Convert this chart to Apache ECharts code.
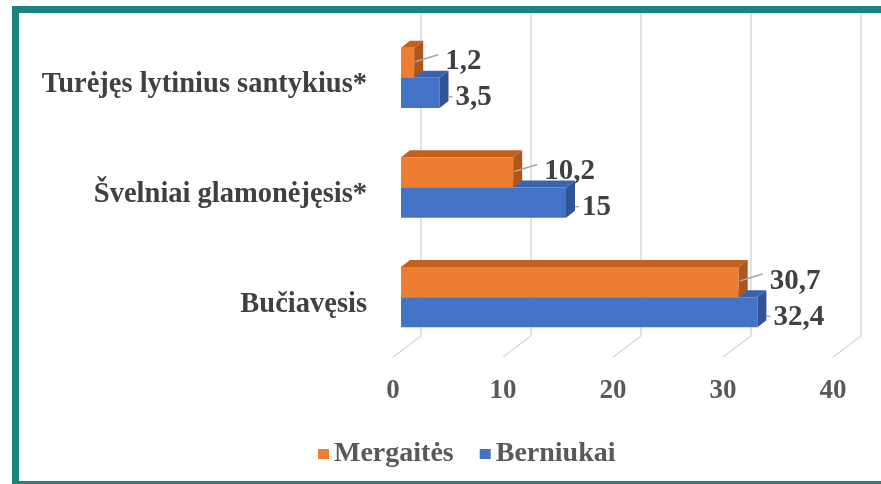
<!DOCTYPE html>
<html>
<head>
<meta charset="utf-8">
<script src="https://cdn.jsdelivr.net/npm/echarts@6/dist/echarts.min.js"></script>
<style>
  html, body { margin: 0; padding: 0; background: #fff; }
  #chart { width: 881px; height: 484px; }
</style>
</head>
<body>
<div id="chart"></div>
<script>
// chart data
const categories = ['Turėjęs lytinius santykius*', 'Švelniai glamonėjęsis*', 'Bučiavęsis']
const mergaites = [1.2, 10.2, 30.7]
const berniukai = [3.5, 15, 32.4]
const xTicks = [0, 10, 20, 30, 40]

const FONT = '"Liberation Serif", "Times New Roman", serif'
const fmt = v => String(v).replace('.', ',')

// 3d-ish bar drawn from the axes; upper = true puts it in the top half of the band
function bar3d(front, top, side, upper, labelUp) {
  return function (params, api) {
    const cat = api.value(1)
    const v = api.value(0)
    const p0 = api.coord([0, cat])
    const p1 = api.coord([v, cat])
    const band = api.size([0, 1])[1]
    const h = band * 0.275
    const dx = 9, dy = -7
    const x0 = p0[0] + 8
    const x1 = p1[0] + 8
    const yTop = upper ? p0[1] - h : p0[1]
    const yBot = yTop + h
    const yc = (yTop + yBot) / 2
    const children = [
      { type: 'polygon', shape: { points: [[x0, yTop], [x1, yTop], [x1 + dx, yTop + dy], [x0 + dx, yTop + dy]] }, style: { fill: top } },
      { type: 'rect', shape: { x: x0, y: yTop, width: x1 - x0, height: h }, style: { fill: front } },
      { type: 'polygon', shape: { points: [[x1, yTop], [x1 + dx, yTop + dy], [x1 + dx, yBot + dy], [x1, yBot]] }, style: { fill: side } }
    ]
    if (labelUp) {
      children.push({ type: 'line', shape: { x1: x1 + 1, y1: yc - 1, x2: x1 + 24, y2: yc - 8 }, style: { stroke: '#a6a6a6', lineWidth: 1.5 } })
      children.push({ type: 'text', style: { text: fmt(v), x: x1 + 31, y: yc - 1, font: 'bold 29px ' + FONT, fill: '#404040', verticalAlign: 'middle' } })
    } else {
      children.push({ type: 'line', shape: { x1: x1 + dx, y1: yc + 4, x2: x1 + 13, y2: yc + 4 }, style: { stroke: '#a6a6a6', lineWidth: 1.5 } })
      children.push({ type: 'text', style: { text: fmt(v), x: x1 + 16, y: yc + 5, font: 'bold 29px ' + FONT, fill: '#404040', verticalAlign: 'middle' } })
    }
    return { type: 'group', children: children }
  }
}

const chart = echarts.init(document.getElementById('chart'))

chart.setOption({
  animation: false,
  grid: { left: 393, right: 48, top: 23, bottom: 132 },
  legend: {
    left: 313,
    top: 435,
    itemWidth: 11,
    itemHeight: 10,
    itemGap: 26,
    icon: 'rect',
    data: ['Mergaitės', 'Berniukai'],
    textStyle: { color: '#595959', fontFamily: FONT, fontWeight: 'bold', fontSize: 28 }
  },
  xAxis: {
    type: 'value',
    min: 0,
    max: 40,
    interval: 10,
    axisLine: { show: false },
    axisTick: { show: false },
    splitLine: { show: false },
    axisLabel: { margin: 26, color: '#595959', fontFamily: FONT, fontWeight: 'bold', fontSize: 27 }
  },
  yAxis: {
    type: 'category',
    inverse: true,
    data: categories,
    axisLine: { show: false },
    axisTick: { show: false },
    axisLabel: {
      margin: 26,
      color: '#404040',
      fontFamily: FONT,
      fontWeight: 'bold',
      fontSize: 28.5,
      verticalAlign: 'top',
      lineHeight: 14
    }
  },
  graphic: [
    { type: 'rect', shape: { x: 12, y: 6, width: 869, height: 7 }, style: { fill: '#1b8282' }, z: 100 },
    { type: 'rect', shape: { x: 12, y: 6, width: 7, height: 478 }, style: { fill: '#1b8282' }, z: 100 },
    { type: 'rect', shape: { x: 12, y: 481, width: 869, height: 3 }, style: { fill: '#1b8282' }, z: 100 }
  ],
  series: [
    {
      type: 'custom',
      silent: true,
      z: 1,
      data: xTicks.map(t => [t, 0]),
      renderItem: function (params, api) {
        const cs = params.coordSys
        const x = api.coord([api.value(0), 0])[0]
        const backBottom = cs.y + cs.height - 16
        return {
          type: 'group',
          children: [
            { type: 'line', shape: { x1: x + 28, y1: cs.y - 12, x2: x + 28, y2: backBottom }, style: { stroke: '#d9d9d9', lineWidth: 1.5 } },
            { type: 'line', shape: { x1: x + 28, y1: backBottom, x2: x, y2: cs.y + cs.height + 5 }, style: { stroke: '#d9d9d9', lineWidth: 1.5 } }
          ]
        }
      }
    },
    {
      name: 'Berniukai',
      type: 'custom',
      z: 2,
      itemStyle: { color: '#4472c4' },
      data: berniukai.map((v, i) => [v, i]),
      renderItem: bar3d('#4472c4', '#3a63ad', '#2f5597', false, false)
    },
    {
      name: 'Mergaitės',
      type: 'custom',
      z: 3,
      itemStyle: { color: '#ed7d31' },
      data: mergaites.map((v, i) => [v, i]),
      renderItem: bar3d('#ed7d31', '#c55f1d', '#b0561a', true, true)
    }
  ]
})
</script>
</body>
</html>
